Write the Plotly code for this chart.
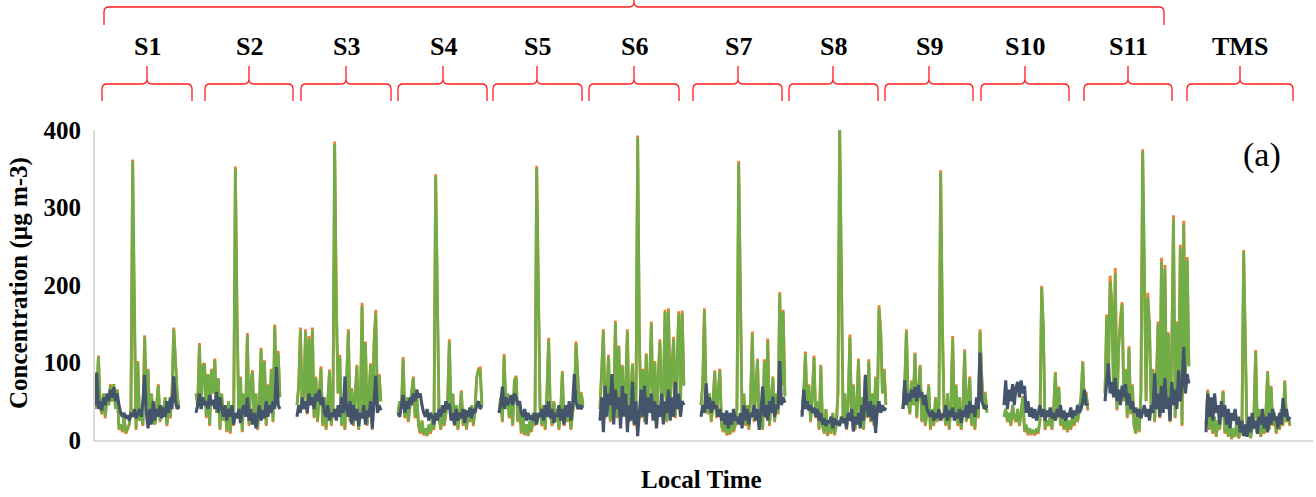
import plotly.graph_objects as go

# ---------------- data ----------------
segments = ["S1", "S2", "S3", "S4", "S5", "S6", "S7", "S8", "S9", "S10", "S11", "TMS"]

series_green = [
    [40,55,107,45,35,60,30,55,45,70, 50,72,40,65,15,20,12,30,10,14, 20,40,360,150,15,100,25,35,20,133, 45,90,20,60,30,20,50,70,25,45, 35,55,20,40,30,60,143,90,60,40],
    [60,45,122,40,95,97,30,85,20,90, 60,103,35,80,15,60,25,45,12,50, 10,40,20,350,155,30,80,12,60,35, 135,20,70,88,25,60,15,45,116,30, 101,20,70,40,90,25,146,60,112,55],
    [45,70,142,40,60,140,35,131,50,142, 30,80,25,60,92,20,55,15,45,88, 20,40,382,170,60,107,20,50,15,70, 140,25,65,20,55,95,15,40,173,30, 125,20,60,97,15,123,163,40,83,50],
    [35,50,40,104,30,55,25,45,60,80, 30,55,20,10,25,8,15,6,20,10, 25,15,340,144,30,15,40,20,35,50, 127,30,60,20,45,15,35,62,20,40, 15,35,25,45,20,40,80,90,90,45],
    [35,55,25,108,40,60,30,50,20,75, 81,25,50,10,30,8,20,6,25,12, 35,20,351,161,40,20,45,15,60,129, 35,20,50,25,40,15,35,87,20,45, 25,40,15,35,50,124,85,40,60,45],
    [40,90,140,30,60,108,25,80,40,151, 30,120,20,95,35,70,140,25,60,97, 20,45,390,129,30,90,25,110,40,75, 150,30,100,20,80,127,35,60,165,25, 167,45,90,130,30,110,163,40,164,70],
    [45,70,167,50,35,60,25,45,88,30, 60,90,20,12,25,8,15,9,30,12, 20,40,357,168,30,60,20,45,15,55, 137,25,60,103,20,40,15,101,30,128, 20,45,80,25,60,35,188,70,165,56],
    [35,60,111,40,70,25,55,106,30,50, 15,95,20,10,40,6,25,10,35,8, 20,60,402,165,30,60,15,50,133,25, 70,15,45,103,20,55,15,80,30,101, 25,60,20,80,35,170,137,60,90,45],
    [40,70,140,50,35,75,45,111,30,60, 95,25,50,20,35,70,15,40,20,55, 25,45,345,148,35,20,60,15,45,131, 30,70,20,55,15,40,114,25,60,80, 20,45,15,50,30,140,80,40,60,35],
    [30,40,25,35,20,45,30,25,40,20, 35,55,12,20,8,15,10,12,8,15, 10,25,197,142,15,25,20,30,15,40, 86,30,67,20,35,15,30,12,25,15, 30,20,35,25,40,55,100,45,60,40],
    [60,159,80,204,172,60,215,40,120,155, 175,50,90,30,119,35,70,20,9,40, 12,60,372,221,50,183,146,40,90,25, 70,150,30,230,60,221,45,137,25,110, 285,30,150,60,247,20,278,70,232,95],
    [20,63,15,40,10,30,5,25,15,40, 62,10,30,5,20,2,15,5,25,3, 10,20,243,116,5,20,3,15,30,114, 10,40,5,25,10,35,87,15,68,20, 35,10,30,15,40,20,75,25,30,20],
]

series_orange = [
    [40,55,109,45,33,60,28,55,45,72, 50,72,40,65,13,20,10,30,8,14, 20,40,362,152,13,102,25,35,18,135, 45,92,20,60,28,20,50,72,23,45, 35,55,18,40,28,60,145,92,60,40],
    [60,45,125,40,97,99,28,85,18,92, 60,105,35,80,13,60,25,45,10,50, 8,40,18,353,157,28,82,10,60,33, 138,18,72,90,23,60,13,45,119,28, 103,18,72,40,92,23,149,60,115,57],
    [45,70,145,40,60,143,33,134,50,145, 28,82,23,60,95,18,55,13,45,91, 18,40,385,172,60,110,18,50,13,72, 143,23,67,18,55,97,13,40,177,28, 127,18,60,99,13,125,168,40,85,50],
    [35,50,40,107,28,55,23,45,60,82, 28,55,18,8,25,6,13,5,18,8, 23,13,343,146,28,13,40,18,35,50, 130,28,60,18,45,13,35,64,18,40, 13,35,23,45,18,40,82,92,93,45],
    [35,55,23,111,40,60,28,50,18,77, 83,23,50,8,30,6,20,5,23,10, 35,18,354,163,40,18,45,13,60,132, 33,18,50,23,40,13,35,89,18,45, 23,40,13,35,50,127,87,40,62,47],
    [40,92,143,28,60,110,23,82,40,154, 28,122,18,97,33,72,143,23,60,99, 18,45,393,131,28,92,23,112,40,77, 153,28,102,18,82,130,33,60,168,23, 170,45,92,133,28,112,166,40,167,72],
    [45,72,170,50,33,60,23,45,90,28, 60,92,18,10,25,6,13,7,30,10, 18,40,360,170,28,60,18,45,13,55, 140,23,60,105,18,40,13,104,28,131, 18,45,82,23,60,33,191,72,168,58],
    [35,60,114,40,72,23,55,109,28,50, 13,97,18,8,40,5,25,8,35,6, 18,60,405,167,28,60,13,50,136,23, 72,13,45,105,18,55,13,82,28,104, 23,60,18,82,33,174,139,60,92,47],
    [40,72,143,50,33,77,45,113,28,60, 97,23,50,18,35,72,13,40,18,55, 23,45,348,150,33,18,60,13,45,134, 28,72,18,55,13,40,117,23,60,82, 18,45,13,50,28,143,82,40,62,37],
    [30,40,23,35,18,45,28,23,40,18, 35,57,10,18,6,13,8,10,6,13, 8,25,199,144,13,25,18,30,13,40, 88,28,69,18,35,13,30,10,25,13, 30,18,35,23,40,57,102,45,62,38],
    [60,162,80,212,175,60,222,38,122,158, 178,50,92,28,121,33,72,18,8,40, 10,60,375,224,50,190,148,38,92,23, 72,153,28,235,60,226,45,139,23,112, 290,28,153,60,252,18,283,72,236,97],
    [20,65,13,40,8,30,4,25,13,40, 64,8,30,4,20,1,15,4,25,2, 8,20,245,118,4,20,2,15,30,116, 8,40,4,25,8,35,89,13,70,18, 35,8,30,13,40,18,77,23,30,18],
]

series_dark = [
    [45,87,40,50,38,55,45,60,50,65, 55,68,50,60,45,35,30,35,28,32, 25,35,30,40,28,35,40,30,50,84, 35,15,40,20,50,25,40,30,45,28, 42,30,50,35,55,40,82,50,40,45],
    [35,45,60,40,55,45,50,40,58,45, 52,40,62,35,55,42,30,45,25,40, 30,45,20,35,28,40,22,38,45,30, 55,25,40,20,35,15,30,45,25,38, 28,50,30,45,35,50,40,94,45,40],
    [30,45,35,55,40,50,35,60,45,55, 40,60,50,65,45,55,35,30,45,25, 35,30,40,25,45,30,55,35,82,40, 30,50,20,45,25,40,18,35,28,45, 20,38,30,50,15,45,83,35,45,38],
    [35,30,45,58,35,50,40,55,45,60, 50,65,55,60,45,35,30,40,25,35, 30,20,35,25,40,30,45,35,50,40, 47,25,35,20,40,25,35,28,40,22, 38,30,42,28,40,35,45,50,40,45],
    [35,45,69,40,55,45,50,58,45,60, 55,45,50,35,30,40,25,35,28,30, 25,35,20,35,30,40,25,45,30,50, 28,40,22,35,30,45,25,40,20,45, 30,50,25,45,85,50,40,45,40,45],
    [25,55,10,70,30,60,45,85,20,65, 40,55,15,70,30,60,10,45,25,75, 20,50,5,40,65,30,70,20,55,35, 60,25,50,15,45,30,60,20,50,35, 65,25,55,30,75,40,60,30,50,45],
    [30,45,35,73,40,55,35,50,40,45, 30,40,25,35,20,38,15,35,20,40, 25,30,20,35,15,45,25,40,20,35, 30,45,25,40,13,35,69,30,45,25, 50,35,56,30,45,40,102,45,55,48],
    [30,65,40,50,38,45,35,42,30,40, 25,35,20,28,18,25,22,30,15,28, 20,25,18,30,22,28,15,35,25,40, 11,30,20,35,15,45,25,84,40,30, 50,25,45,9,40,50,35,45,38,42],
    [40,77,45,60,50,65,55,68,50,71, 55,62,45,58,40,35,30,38,25,35, 28,40,25,32,30,45,25,38,30,42, 25,35,28,40,22,38,30,45,28,50, 35,45,30,55,40,113,50,45,40,45],
    [45,77,40,65,50,72,45,68,75,55, 77,60,70,35,50,30,42,28,40,25, 35,45,30,40,25,38,30,42,28,35, 25,40,30,45,28,38,25,35,30,42, 28,38,32,45,35,40,50,65,45,48],
    [50,70,99,60,75,55,80,50,65,45, 70,55,72,45,60,40,50,35,42,30, 40,28,38,45,30,40,25,45,35,86, 40,60,30,70,35,80,40,55,25,75, 45,65,40,90,50,70,120,60,85,73],
    [10,60,30,55,25,60,35,45,20,50, 30,45,20,40,15,35,25,40,20,30, 10,25,5,20,4,30,10,35,15,25, 8,30,20,40,15,30,10,35,20,40, 25,30,15,35,20,54,30,40,25,30],
]

y_ticks = [0, 100, 200, 300, 400]

# ---------------- layout geometry ----------------
W, H = 1316, 497
ML, MR, MT, MB = 95, 3, 130, 57
PW, PH = W - ML - MR, H - MT - MB
PERIOD = 59          # index units from one session start to the next

def px(x):
    return (x - ML) / PW

def py(y):
    return (H - MB - y) / PH

def build(series):
    xs, ys = [], []
    for k, seg in enumerate(series):
        for i, v in enumerate(seg):
            xs.append(k * PERIOD + i)
            ys.append(v)
        xs.append(None)
        ys.append(None)
    return xs, ys

fig = go.Figure()
for series, color, width in [(series_orange, "#ED7D31", 2.8),
                             (series_green, "#70AD47", 2.8),
                             (series_dark, "#44546A", 3.1)]:
    xs, ys = build(series)
    fig.add_trace(go.Scatter(x=xs, y=ys, mode="lines", connectgaps=False,
                             line=dict(color=color, width=width),
                             showlegend=False, hoverinfo="skip"))

x_max = PW * PERIOD / 101.0

# braces (pixel spans of decorations)
brace_spans = [(102, 192, 147), (205, 293, 249), (301, 391, 346), (398, 487, 443),
               (493, 582, 537), (589, 679, 634), (693, 782, 738), (789, 878, 833),
               (885, 973, 929), (981, 1069, 1025), (1084, 1172, 1128), (1187, 1293, 1240)]

def brace(x0, x1, xc, yb, ym, yt, r=5):
    p = lambda x, y: f"{px(x):.5f},{py(y):.5f}"
    return (f"M {p(x0, yb)} L {p(x0, ym + r)} Q {p(x0, ym)} {p(x0 + r, ym)} "
            f"L {p(xc - r, ym)} Q {p(xc, ym)} {p(xc, ym - r)} L {p(xc, yt)} "
            f"M {p(xc, ym - r)} Q {p(xc, ym)} {p(xc + r, ym)} "
            f"L {p(x1 - r, ym)} Q {p(x1, ym)} {p(x1, ym + r)} L {p(x1, yb)}")

shapes = []
for x0, x1, xc in brace_spans:
    shapes.append(dict(type="path", xref="paper", yref="paper",
                       path=brace(x0, x1, xc, 101, 84, 66),
                       line=dict(color="#FF1A1A", width=1.3)))
shapes.append(dict(type="path", xref="paper", yref="paper",
                   path=brace(104, 1164, 634, 25, 7, -1),
                   line=dict(color="#FF1A1A", width=1.3)))

serif = "Liberation Serif, Times New Roman, serif"
annotations = []
for (x0, x1, xc), name in zip(brace_spans, segments):
    annotations.append(dict(text=f"<b>{name}</b>", xref="paper", yref="paper",
                            x=px(xc), y=py(47), xanchor="center", yanchor="middle",
                            showarrow=False, font=dict(family=serif, size=26, color="black")))
annotations.append(dict(text="<b>Concentration (µg m-3)</b>", xref="paper", yref="paper",
                        x=px(19), y=py(283), textangle=-90, xanchor="center", yanchor="middle",
                        showarrow=False, font=dict(family=serif, size=25, color="black")))
annotations.append(dict(text="<b>Local Time</b>", xref="paper", yref="paper",
                        x=px(701), y=py(480), xanchor="center", yanchor="middle",
                        showarrow=False, font=dict(family=serif, size=25, color="black")))
annotations.append(dict(text="(a)", xref="paper", yref="paper",
                        x=px(1262), y=py(155), xanchor="center", yanchor="middle",
                        showarrow=False, font=dict(family=serif, size=34, color="black")))

fig.update_layout(
    width=W, height=H,
    margin=dict(l=ML, r=MR, t=MT, b=MB, pad=0),
    paper_bgcolor="white", plot_bgcolor="white",
    shapes=shapes, annotations=annotations,
    xaxis=dict(range=[0, x_max], showticklabels=False, ticks="", showgrid=False,
               zeroline=False, showline=True, linecolor="#D9D9D9", linewidth=2),
    yaxis=dict(range=[0, 400], tickvals=y_ticks, ticks="", showgrid=False, zeroline=False,
               showline=True, linecolor="#D9D9D9", linewidth=2, ticklabelstandoff=7,
               tickfont=dict(family=serif, size=25, color="black", weight="bold")),
)

fig.write_html("out.html")
